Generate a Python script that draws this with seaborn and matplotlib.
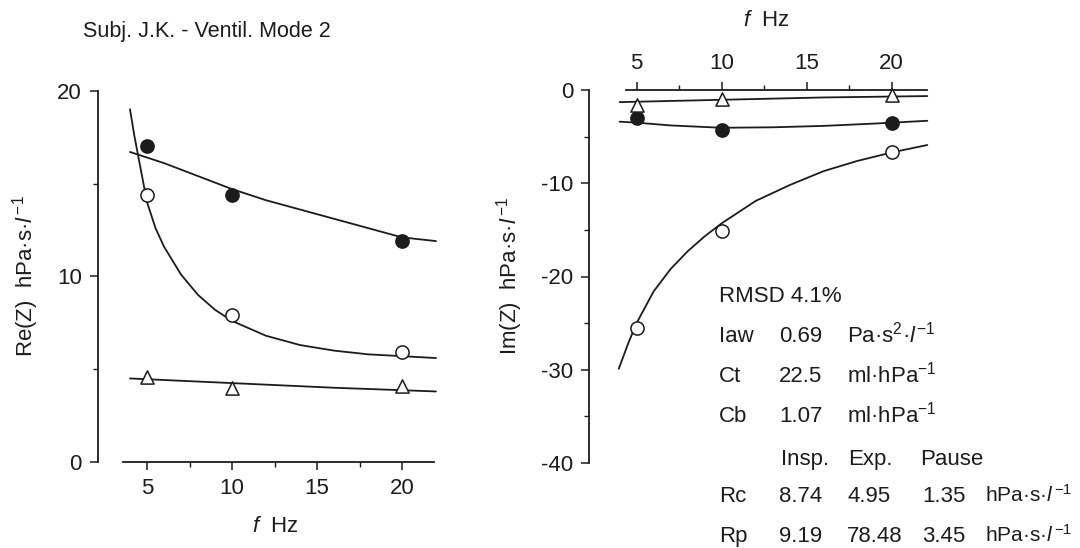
import matplotlib
matplotlib.use("Agg")
import matplotlib.pyplot as plt
import pandas as pd
import seaborn as sns

# measured points (f in Hz)
freq = [5, 10, 20]
re_filled = [17.0, 14.4, 11.9]
re_open = [14.4, 7.9, 5.9]
re_tri = [4.6, 4.0, 4.1]
im_filled = [-3.0, -4.3, -3.5]
im_open = [-25.5, -15.1, -6.6]
im_tri = [-1.6, -1.0, -0.5]

# model fit curves
re_filled_fit_f = [4, 6, 8, 10, 12, 14, 16, 18, 20, 22]
re_filled_fit = [16.7, 16.1, 15.4, 14.7, 14.1, 13.6, 13.1, 12.6, 12.1, 11.9]
re_open_fit_f = [4.0, 4.25, 4.5, 5, 5.5, 6, 7, 8, 9, 10, 12, 14, 16, 18, 20, 22]
re_open_fit = [19.0, 17.6, 16.4, 14.0, 12.6, 11.6, 10.1, 9.0, 8.2, 7.6, 6.8, 6.3, 6.0, 5.8, 5.7, 5.6]
re_tri_fit_f = [4, 10, 16, 22]
re_tri_fit = [4.5, 4.25, 4.0, 3.8]

im_filled_fit_f = [4.0, 5, 7, 10, 13, 16, 19, 22.1]
im_filled_fit = [-3.4, -3.5, -3.8, -4.05, -4.0, -3.85, -3.6, -3.3]
im_open_fit_f = [3.95, 4.5, 5, 6, 7, 8, 9, 10, 12, 14, 16, 18, 20, 22.1]
im_open_fit = [-29.9, -27.2, -25.0, -21.6, -19.2, -17.3, -15.7, -14.3, -11.9, -10.2, -8.7, -7.6, -6.7, -5.9]
im_tri_fit_f = [4.0, 10, 16, 22.1]
im_tri_fit = [-1.3, -1.05, -0.8, -0.65]

title = "Subj. J.K. - Ventil. Mode 2"
table_rows = [
    ["Iaw", "0.69", "Pa·s$^{2}$·$\\mathit{l}^{-1}$"],
    ["Ct", "22.5", "ml·hPa$^{-1}$"],
    ["Cb", "1.07", "ml·hPa$^{-1}$"],
]
phase_names = ["Insp.", "Exp.", "Pause"]
rc_vals = ["8.74", "4.95", "1.35"]
rp_vals = ["9.19", "78.48", "3.45"]
flow_unit = "hPa·s·$\\mathit{l}\\,^{-1}$"

sns.set_theme(style="ticks")
plt.rcParams['font.family'] = ['Liberation Sans Narrow', 'Liberation Sans', 'DejaVu Sans']
plt.rcParams['mathtext.fontset'] = 'custom'
plt.rcParams['mathtext.rm'] = 'Liberation Sans'
plt.rcParams['mathtext.it'] = 'Liberation Sans:italic'
plt.rcParams['mathtext.default'] = 'rm'
plt.rcParams['axes.unicode_minus'] = False

ink = "#1c1c1c"
W, H = 1080, 548
fs = 16

fig = plt.figure(figsize=(W / 100, H / 100), dpi=100)
ax1 = fig.add_axes([97.7 / W, (H - 462) / H, (436 - 97.7) / W, (462 - 90.7) / H])
ax2 = fig.add_axes([589 / W, (H - 463) / H, 340 / W, 373 / H])


def draw(ax, fit_sets, pts):
    for fx, fy in fit_sets:
        d = pd.DataFrame({"f": fx, "v": fy})
        sns.lineplot(data=d, x="f", y="v", ax=ax, color=ink, lw=1.3,
                     sort=False, estimator=None)
    for vals, mk, face in pts:
        d = pd.DataFrame({"f": freq, "v": vals})
        sns.scatterplot(data=d, x="f", y="v", ax=ax, marker=mk, s=90,
                        facecolor=face, edgecolor=ink, linewidth=1.1,
                        zorder=5, clip_on=False)
    for ln in ax.lines:
        ln.set_clip_on(False)
    ax.set_xlabel("")
    ax.set_ylabel("")


draw(ax1,
     [(re_filled_fit_f, re_filled_fit), (re_open_fit_f, re_open_fit), (re_tri_fit_f, re_tri_fit)],
     [(re_filled, "o", ink), (re_open, "o", "white"), (re_tri, "^", "white")])
draw(ax2,
     [(im_filled_fit_f, im_filled_fit), (im_open_fit_f, im_open_fit), (im_tri_fit_f, im_tri_fit)],
     [(im_filled, "o", ink), (im_open, "o", "white"), (im_tri, "^", "white")])

# left panel: Re(Z)
ax1.set_xlim(2.1, 22)
ax1.set_ylim(0, 20)
ax1.set_xticks([5, 10, 15, 20])
ax1.set_xticks([7.5, 12.5, 17.5], minor=True)
ax1.set_yticks([0, 10, 20])
ax1.set_yticks([5, 15], minor=True)
ax1.spines[["right", "top"]].set_visible(False)
ax1.spines["left"].set_bounds(0, 20)
ax1.spines["bottom"].set_bounds(3.6, 21.9)

# right panel: Im(Z), axis on top
ax2.set_xlim(2.2, 22.2)
ax2.set_ylim(-40, 0)
ax2.xaxis.tick_top()
ax2.set_xticks([5, 10, 15, 20])
ax2.set_xticks([7.5, 12.5, 17.5], minor=True)
ax2.set_yticks([0, -10, -20, -30, -40])
ax2.set_yticks([-5, -15, -25, -35], minor=True)
ax2.spines[["right", "bottom"]].set_visible(False)
ax2.spines["top"].set_visible(True)
ax2.spines["left"].set_bounds(-40, 0)
ax2.spines["top"].set_bounds(4.35, 22.1)

for ax in (ax1, ax2):
    for sp in ax.spines.values():
        sp.set_linewidth(1.3)
        sp.set_color(ink)
    ax.tick_params(which="major", direction="out", length=5.5, width=1.1,
                   pad=6, labelsize=fs, color=ink, labelcolor=ink)
    ax.tick_params(which="minor", direction="out", length=3.5, width=1.0, color=ink)
    ax.patch.set_alpha(0)
ax2.tick_params(axis="x", which="both", top=True, bottom=False, labeltop=True, labelbottom=False)


def ftxt(x, y, s, **kw):
    kw.setdefault("fontsize", fs)
    kw.setdefault("color", ink)
    fig.text(x / W, 1 - y / H, s, **kw)


ftxt(83, 37, title, fontsize=15.5, va="baseline")
ftxt(275, 526, "$\\mathit{f}$  Hz", ha="center", va="center")
ftxt(766, 20, "$\\mathit{f}$  Hz", ha="center", va="center")
ftxt(26, 276, "Re(Z)  " + flow_unit, rotation=90, ha="center", va="center")
ftxt(510, 276, "Im(Z)  " + flow_unit, rotation=90, ha="center", va="center")

# parameter table
ftxt(719, 302, "RMSD 4.1%", va="baseline")
for i, (name, val, unit) in enumerate(table_rows):
    yb = 342 + 40 * i
    ftxt(719, yb, name, va="baseline")
    ftxt(779, yb, val, va="baseline")
    ftxt(847, yb, unit, va="baseline")
for x, s in zip([781, 848, 920], phase_names):
    ftxt(x, 465, s, va="baseline")
for yb, name, vals in [(502, "Rc", rc_vals), (542, "Rp", rp_vals)]:
    ftxt(719, yb, name, va="baseline")
    for x, s in zip([779, 847, 922], vals):
        ftxt(x, yb, s, va="baseline")
    ftxt(985, yb, flow_unit, va="baseline", fontsize=15)

fig.savefig("out.png", dpi=100, facecolor="white")
